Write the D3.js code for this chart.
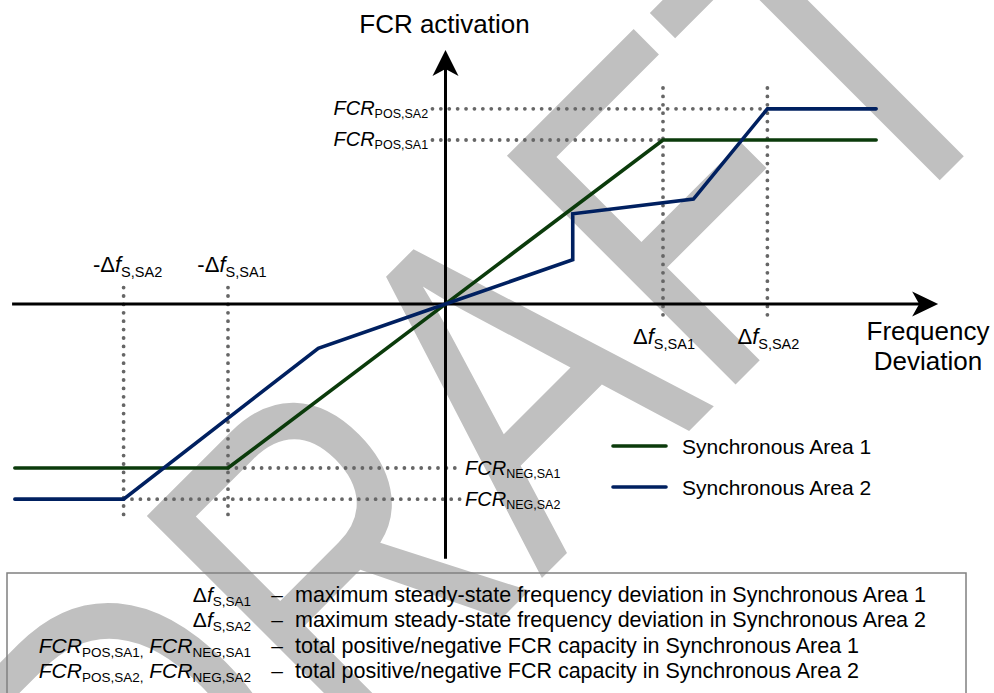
<!DOCTYPE html>
<html>
<head>
<meta charset="utf-8">
<script src="https://cdn.jsdelivr.net/npm/d3@7"></script>
<style>
  html, body { margin: 0; padding: 0; background: #fff; }
  svg { display: block; font-family: "Liberation Sans", Arial, sans-serif; }
</style>
</head>
<body>
<svg id="chart" width="994" height="693"></svg>
<script>
// Frequency deviation in units of Δf_S,SA1; FCR activation in units of FCR_POS,SA1
const seriesNames = ["Synchronous Area 1", "Synchronous Area 2"];
const area1Dev = [-1.98, -1, 1, 1.98];
const area1Fcr = [-1, -1, 1, 1];
const area2Dev = [-1.98, -1.48, -0.585, 0, 0.585, 0.585, 1.14, 1.48, 1.98];
const area2Fcr = [-1.19, -1.19, -0.27, 0, 0.27, 0.55, 0.64, 1.19, 1.19];

// Characteristic levels of the two areas
const areaTags = ["SA1", "SA2"];
const devLimits = [1, 1.48];      // Δf_S,SA1, Δf_S,SA2
const fcrPos = [1, 1.19];         // FCR_POS,SA1, FCR_POS,SA2
const fcrNeg = [-1, -1.19];       // FCR_NEG,SA1, FCR_NEG,SA2

const axisTitles = { y: "FCR activation", x: ["Frequency", "Deviation"] };
const noteTexts = [
  "maximum steady-state frequency deviation in Synchronous Area 1",
  "maximum steady-state frequency deviation in Synchronous Area 2",
  "total positive/negative FCR capacity in Synchronous Area 1",
  "total positive/negative FCR capacity in Synchronous Area 2"
];
const watermark = "DRAFT";

const colors = ["#0b3b0b", "#002060"];
const dotColor = "#666666";

const svg = d3.select("#chart");
const x = d3.scaleLinear().domain([-1, 1]).range([228, 663]);
const y = d3.scaleLinear().domain([-1, 1]).range([468, 140]);

// --- watermark (behind everything) ---
svg.append("text")
  .attr("transform", "translate(167,953) rotate(-45) scale(0.78,1)")
  .attr("font-size", 470)
  .attr("fill", "#c0c0c0")
  .text(watermark);

// rich text helper: parts = [{t, i (italic), sub}]
function rich(sel, parts, size, subSize, subShift) {
  sel.attr("font-size", size);
  let shifted = false;
  parts.forEach(p => {
    const ts = sel.append("tspan").text(p.t);
    if (p.i) ts.attr("font-style", "italic");
    if (p.sub) {
      ts.attr("font-size", subSize);
      if (!shifted) { ts.attr("dy", subShift); shifted = true; }
    } else if (shifted) {
      ts.attr("dy", -subShift); shifted = false;
    }
  });
  return sel;
}
const fcrParts = (kind, tag, comma) => [{ t: "FCR", i: true }, { t: kind + "," + tag + (comma ? "," : ""), sub: true }];
const devParts = (tag, neg) => [{ t: (neg ? "-" : "") + "\u0394" }, { t: "f", i: true }, { t: "S," + tag, sub: true }];

// --- dotted guide lines ---
const guides = svg.append("g")
  .attr("stroke", dotColor).attr("stroke-width", 3.8)
  .attr("stroke-linecap", "round").attr("stroke-dasharray", "0 8.4").attr("fill", "none");
devLimits.forEach((d, i) => {
  // positive side
  guides.append("line").attr("x1", x(d)).attr("x2", x(d)).attr("y1", y(1.317)).attr("y2", y(-0.1));
  // negative side
  guides.append("line").attr("x1", x(-d)).attr("x2", x(-d)).attr("y1", y(0.1)).attr("y2", y(-1.31));
  // FCR levels
  guides.append("line").attr("x1", x(-0.06)).attr("x2", x(d)).attr("y1", y(fcrPos[i])).attr("y2", y(fcrPos[i]));
  guides.append("line").attr("x1", x(-d)).attr("x2", x(0.07)).attr("y1", y(fcrNeg[i])).attr("y2", y(fcrNeg[i]));
});

// --- axes (no ticks, arrow-headed) ---
const xExtent = [-1.995, 2.19];
const yExtent = [-1.55, 1.46];
const xAxisScale = x.copy().domain(xExtent).range(xExtent.map(x));
const yAxisScale = y.copy().domain(yExtent).range(yExtent.map(y));
const axes = svg.append("g").attr("class", "axes");
axes.append("g").attr("transform", `translate(0,${y(0) - 0.5})`)
  .call(d3.axisBottom(xAxisScale).tickValues([]).tickSizeOuter(0))
  .select(".domain").attr("stroke", "#000").attr("stroke-width", 3);
axes.append("g").attr("transform", `translate(${x(0) - 0.5},0)`)
  .call(d3.axisLeft(yAxisScale).tickValues([]).tickSizeOuter(0))
  .select(".domain").attr("stroke", "#000").attr("stroke-width", 3);

const xTip = [x(2.265), y(0)];
axes.append("path")
  .attr("d", `M${xTip[0]},${xTip[1]} L${xTip[0] - 26},${xTip[1] - 12.5} L${xTip[0] - 19},${xTip[1]} L${xTip[0] - 26},${xTip[1] + 12.5} Z`)
  .attr("fill", "#000");
const yTip = [x(0), y(1.549)];
axes.append("path")
  .attr("d", `M${yTip[0]},${yTip[1]} L${yTip[0] - 13},${yTip[1] + 26} L${yTip[0]},${yTip[1] + 19} L${yTip[0] + 13},${yTip[1] + 26} Z`)
  .attr("fill", "#000");

// --- characteristic curves ---
const line = d3.line().x(d => x(d[0])).y(d => y(d[1]));
const series = [d3.zip(area1Dev, area1Fcr), d3.zip(area2Dev, area2Fcr)];
series.forEach((pts, i) => {
  svg.append("path").datum(pts)
    .attr("d", line)
    .attr("fill", "none")
    .attr("stroke", colors[i])
    .attr("stroke-width", 3.6)
    .attr("stroke-linejoin", "miter")
    .attr("stroke-linecap", "round");
});

// --- axis titles ---
svg.append("text").attr("x", x(0) - 1).attr("y", 33).attr("text-anchor", "middle")
  .attr("font-size", 26).attr("fill", "#000").text(axisTitles.y);
axisTitles.x.forEach((t, i) => {
  svg.append("text").attr("x", 928).attr("y", 340 + i * 30).attr("text-anchor", "middle")
    .attr("font-size", 26).attr("fill", "#000").text(t);
});

// --- level labels ---
areaTags.forEach((tag, i) => {
  rich(svg.append("text").attr("x", x(-0.08)).attr("y", y(fcrPos[i]) + 6).attr("text-anchor", "end"),
    fcrParts("POS", tag), 20, 12.5, 3);
  rich(svg.append("text").attr("x", x(0.09)).attr("y", y(fcrNeg[i]) + 7).attr("text-anchor", "start"),
    fcrParts("NEG", tag), 20, 12.5, 3);
  rich(svg.append("text").attr("x", x(devLimits[i]) + 1).attr("y", y(0) + 40).attr("text-anchor", "middle"),
    devParts(tag, false), 22, 14.5, 5);
  rich(svg.append("text").attr("x", x(-devLimits[i]) + 4).attr("y", y(0) - 32).attr("text-anchor", "middle"),
    devParts(tag, true), 22, 14.5, 5);
});

// --- series legend ---
seriesNames.forEach((name, i) => {
  const ly = 446 + i * 41;
  svg.append("line").attr("x1", 613).attr("x2", 666).attr("y1", ly).attr("y2", ly)
    .attr("stroke", colors[i]).attr("stroke-width", 3.6).attr("stroke-linecap", "round");
  svg.append("text").attr("x", 682).attr("y", ly + 7.5).attr("font-size", 21).attr("fill", "#000").text(name);
});

// --- symbol key box ---
svg.append("rect").attr("x", 7).attr("y", 573).attr("width", 959).attr("height", 140)
  .attr("fill", "none").attr("stroke", "#808080").attr("stroke-width", 1.5);
const keyLabels = [
  devParts("SA1", false),
  devParts("SA2", false),
  [...fcrParts("POS", "SA1", true), { t: " " }, ...fcrParts("NEG", "SA1")],
  [...fcrParts("POS", "SA2", true), { t: " " }, ...fcrParts("NEG", "SA2")]
];
keyLabels.forEach((parts, i) => {
  const by = 602 + i * 25.4;
  rich(svg.append("text").attr("x", 251).attr("y", by).attr("text-anchor", "end"), parts, 21, 13.5, 4);
  svg.append("text").attr("x", 277).attr("y", by).attr("text-anchor", "middle").attr("font-size", 21).text("\u2013");
  svg.append("text").attr("x", 295).attr("y", by).attr("font-size", 21.5).text(noteTexts[i]);
});
</script>
</body>
</html>
